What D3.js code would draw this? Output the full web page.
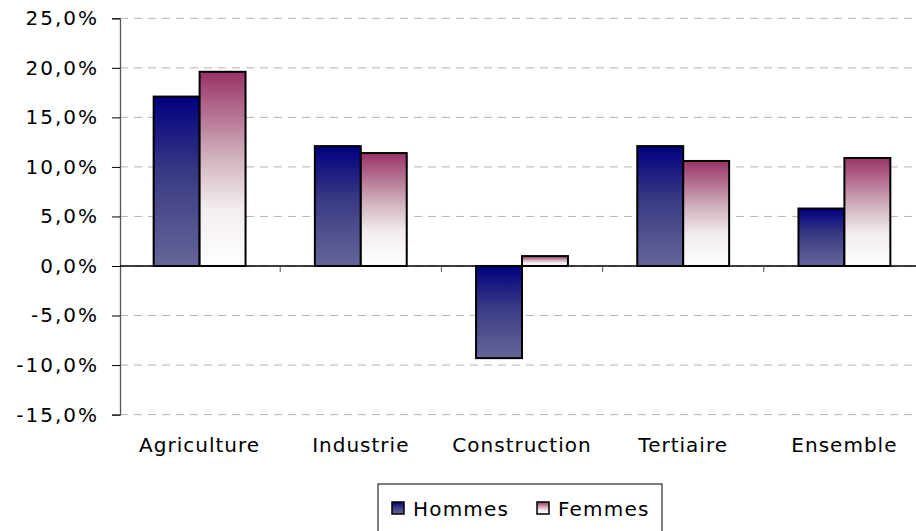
<!DOCTYPE html>
<html>
<head>
<meta charset="utf-8">
<script src="https://cdn.jsdelivr.net/npm/d3@7"></script>
<style>
  body { margin: 0; background: #fff; }
  text { font-family: "DejaVu Sans", Verdana, sans-serif; fill: #000; }
</style>
</head>
<body>
<svg id="chart"></svg>
<script>
const width = 916;
const height = 531;

const categories = ["Agriculture", "Industrie", "Construction", "Tertiaire", "Ensemble"];
const seriesNames = ["Hommes", "Femmes"];
const hommes = [17.1, 12.1, -9.3, 12.1, 5.8];
const femmes = [19.6, 11.4, 1.0, 10.6, 10.9];
const yTicks = [-15, -10, -5, 0, 5, 10, 15, 20, 25];

const svg = d3.select("#chart")
    .attr("width", width)
    .attr("height", height);

const defs = svg.append("defs");
const gradH = defs.append("linearGradient").attr("id", "gH")
    .attr("x1", 0).attr("y1", 0).attr("x2", 0).attr("y2", 1);
gradH.append("stop").attr("offset", "0%").attr("stop-color", "#000080");
gradH.append("stop").attr("offset", "45%").attr("stop-color", "#3a3a84");
gradH.append("stop").attr("offset", "100%").attr("stop-color", "#666699");

const gradF = defs.append("linearGradient").attr("id", "gF")
    .attr("x1", 0).attr("y1", 0).attr("x2", 0).attr("y2", 1);
gradF.append("stop").attr("offset", "0%").attr("stop-color", "#993366");
gradF.append("stop").attr("offset", "45%").attr("stop-color", "#d2b4c0");
gradF.append("stop").attr("offset", "70%").attr("stop-color", "#f2ecef");
gradF.append("stop").attr("offset", "100%").attr("stop-color", "#ffffff");

const fills = ["url(#gH)", "url(#gF)"];

const x0 = d3.scaleBand()
    .domain(categories)
    .range([119, 925])
    .paddingInner(0.43)
    .paddingOuter(0.215);

const x1 = d3.scaleBand()
    .domain(seriesNames)
    .range([0, x0.bandwidth()]);

const y = d3.scaleLinear()
    .domain([-15, 25])
    .range([414.6, 18.3]);

// gridlines
svg.append("g")
    .selectAll("line")
    .data(yTicks)
    .enter().append("line")
    .attr("x1", 120).attr("x2", width)
    .attr("y1", d => y(d)).attr("y2", d => y(d))
    .attr("stroke", "#b4b4b4")
    .attr("stroke-dasharray", "8,6")
    .attr("stroke-width", 1);

// y axis
const yAxis = d3.axisLeft(y)
    .tickValues(yTicks)
    .tickSize(8)
    .tickFormat(d => d.toFixed(1).replace(".", ",") + "%");

const gy = svg.append("g")
    .attr("transform", "translate(120,0)")
    .call(yAxis);
gy.select(".domain").attr("stroke", "#555").attr("stroke-width", 1.3);
gy.selectAll(".tick line").attr("stroke", "#000");
gy.selectAll(".tick text")
    .attr("x", -21)
    .attr("font-size", 20)
    .attr("letter-spacing", "2px")
    .style("font-family", "DejaVu Sans, Verdana, sans-serif");

// bars
const groups = svg.append("g")
    .selectAll("g")
    .data(categories)
    .enter().append("g")
    .attr("transform", d => `translate(${x0(d)},0)`);

groups.selectAll("rect")
    .data((d, i) => [hommes[i], femmes[i]].map((v, j) => ({ key: seriesNames[j], value: v, idx: j })))
    .enter().append("rect")
    .attr("x", d => x1(d.key))
    .attr("width", x1.bandwidth())
    .attr("y", d => y(Math.max(0, d.value)))
    .attr("height", d => Math.abs(y(d.value) - y(0)))
    .attr("fill", d => fills[d.idx])
    .attr("stroke", "#000")
    .attr("stroke-width", 2);

// zero line with category ticks
svg.append("line")
    .attr("x1", 120).attr("x2", width)
    .attr("y1", y(0)).attr("y2", y(0))
    .attr("stroke", "#000").attr("stroke-width", 1.5);

svg.append("g")
    .selectAll("line")
    .data(categories.slice(1))
    .enter().append("line")
    .attr("x1", d => x0(d) - x0.step() * x0.paddingInner() / 2)
    .attr("x2", d => x0(d) - x0.step() * x0.paddingInner() / 2)
    .attr("y1", y(0)).attr("y2", y(0) + 6)
    .attr("stroke", "#555");

// category labels
svg.append("g")
    .selectAll("text")
    .data(categories)
    .enter().append("text")
    .attr("x", d => x0(d) + x0.bandwidth() / 2)
    .attr("y", 452)
    .attr("text-anchor", "middle")
    .attr("font-size", 20)
    .attr("letter-spacing", "1px")
    .text(d => d);

// legend
const legend = svg.append("g");
legend.append("rect")
    .attr("x", 378).attr("y", 484)
    .attr("width", 284).attr("height", 60)
    .attr("fill", "#fff")
    .attr("stroke", "#000");

const legendX = [392, 537];
seriesNames.forEach((name, i) => {
    legend.append("rect")
        .attr("x", legendX[i]).attr("y", 502)
        .attr("width", 12).attr("height", 12)
        .attr("fill", fills[i])
        .attr("stroke", "#000")
        .attr("stroke-width", 1.5);
    legend.append("text")
        .attr("x", legendX[i] + 21)
        .attr("y", 516)
        .attr("font-size", 20)
        .attr("letter-spacing", "1.2px")
        .text(name);
});
</script>
</body>
</html>
